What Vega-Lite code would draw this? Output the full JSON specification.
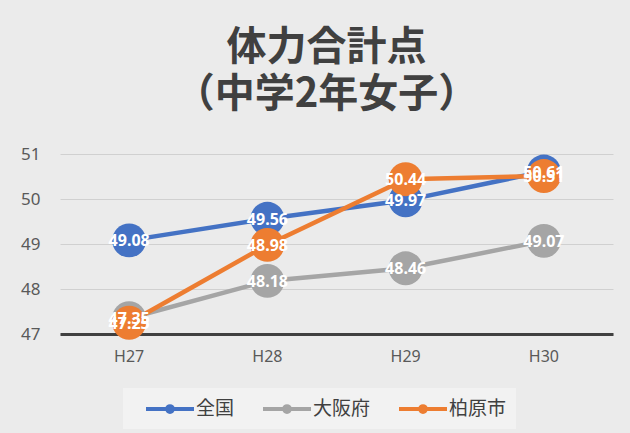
{
  "$schema": "https://vega.github.io/schema/vega-lite/v6.json",
  "width": 553,
  "height": 180,
  "autosize": {"type": "none"},
  "padding": {"left": 60, "top": 154, "right": 17, "bottom": 99},
  "background": "#ebebeb",
  "title": {
    "text": ["体力合計点", "（中学2年女子）"],
    "font": "Noto Sans CJK JP",
    "fontSize": 40,
    "fontWeight": "bold",
    "color": "#404040",
    "anchor": "middle",
    "dx": -10,
    "lineHeight": 47,
    "offset": 30
  },
  "data": {
    "values": [
      {"year": "H27", "series": "全国", "value": 49.08},
      {"year": "H28", "series": "全国", "value": 49.56},
      {"year": "H29", "series": "全国", "value": 49.97},
      {"year": "H30", "series": "全国", "value": 50.61},
      {"year": "H27", "series": "大阪府", "value": 47.35},
      {"year": "H28", "series": "大阪府", "value": 48.18},
      {"year": "H29", "series": "大阪府", "value": 48.46},
      {"year": "H30", "series": "大阪府", "value": 49.07},
      {"year": "H27", "series": "柏原市", "value": 47.25},
      {"year": "H28", "series": "柏原市", "value": 48.98},
      {"year": "H29", "series": "柏原市", "value": 50.44},
      {"year": "H30", "series": "柏原市", "value": 50.51}
    ]
  },
  "encoding": {
    "x": {
      "field": "year",
      "type": "ordinal",
      "scale": {"type": "band", "paddingInner": 0, "paddingOuter": 0},
      "axis": {
        "title": null,
        "labelAngle": 0,
        "ticks": false,
        "domainColor": "#404040",
        "domainWidth": 3,
        "labelFont": "Noto Sans",
        "labelFontSize": 16,
        "labelColor": "#595959",
        "labelPadding": 14
      }
    },
    "y": {
      "field": "value",
      "type": "quantitative",
      "scale": {"domain": [47, 51], "zero": false, "nice": false},
      "axis": {
        "title": null,
        "values": [47, 48, 49, 50, 51],
        "domain": false,
        "ticks": false,
        "gridColor": "#d0d0d0",
        "gridWidth": 1,
        "labelFont": "Noto Sans",
        "labelFontSize": 17,
        "labelColor": "#595959",
        "labelPadding": 20
      }
    },
    "color": {
      "field": "series",
      "type": "nominal",
      "sort": ["全国", "大阪府", "柏原市"],
      "scale": {"domain": ["全国", "大阪府", "柏原市"], "range": ["#4472C4", "#A5A5A5", "#ED7D31"]},
      "legend": {
        "title": null,
        "orient": "none",
        "direction": "horizontal",
        "legendX": 63,
        "legendY": 234,
        "symbolType": "M-2.5,0H2.5M0.3,0A0.3,0.3 0 1,1 -0.3,0A0.3,0.3 0 1,1 0.3,0",
        "symbolSize": 369,
        "symbolStrokeWidth": 4,
        "symbolOffset": 26,
        "labelFont": "Noto Sans CJK JP",
        "labelFontSize": 19,
        "labelColor": "#404040",
        "columnPadding": 14,
        "labelOffset": 14,
        "fillColor": "#f2f2f2",
        "padding": 9
      }
    }
  },
  "layer": [
    {
      "mark": {"type": "line", "strokeWidth": 4.5, "strokeCap": "round"}
    },
    {
      "mark": {"type": "circle", "size": 1150, "opacity": 1}
    },
    {
      "mark": {"type": "text", "color": "white", "fontWeight": "bold", "fontSize": 16, "font": "Noto Sans", "baseline": "middle", "dy": 1},
      "encoding": {
        "text": {"field": "value", "type": "quantitative", "format": ".2f"},
        "color": {"value": "white"}
      }
    }
  ],
  "config": {
    "view": {"stroke": null}
  }
}
